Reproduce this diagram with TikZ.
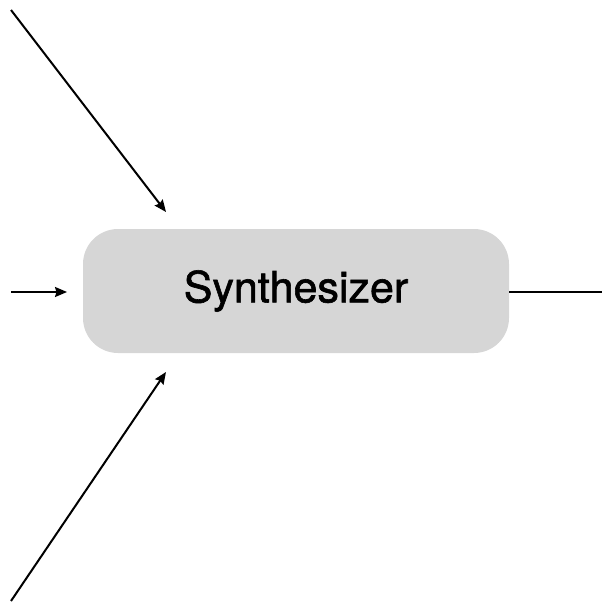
\documentclass[tikz,border=0pt]{standalone}
\usepackage{fontspec}
\setmainfont{TeX Gyre Heros}
\newfontfamily\medfont[FakeBold=1.4]{TeX Gyre Heros}
\usetikzlibrary{arrows.meta}
\definecolor{boxgray}{HTML}{D6D6D6}
\tikzset{
  synthbox/.style={fill=boxgray, rounded corners=35pt, minimum width=426pt, minimum height=124pt, inner sep=0pt, font=\medfont\fontsize{43}{50}\selectfont},
  conn/.style={line width=2pt, -{Stealth[length=12pt,width=10pt,inset=1.5pt]}},
  plainconn/.style={line width=2pt}
}
\begin{document}
\begin{tikzpicture}[x=1pt,y=-1pt]
\useasboundingbox (0,0) rectangle (602,605);
\node[synthbox] (syn) at (296,291) {Synthesizer};
\coordinate (a1) at (11,10);
\coordinate (a1e) at (166,212);
\coordinate (a2) at (11,292);
\coordinate (a2e) at (67,292);
\coordinate (a3) at (11,601);
\coordinate (a3e) at (166,372);
\coordinate (out) at (602,292);
\draw[conn] (a1) -- (a1e);
\draw[conn] (a2) -- (a2e);
\draw[conn] (a3) -- (a3e);
\draw[plainconn] (syn.east |- out) -- (out);
\end{tikzpicture}
\end{document}
